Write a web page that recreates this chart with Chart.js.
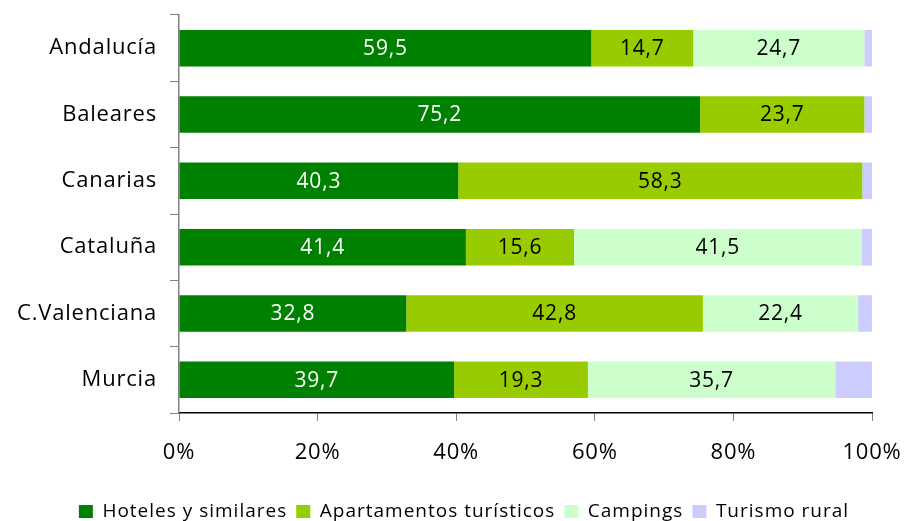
<!DOCTYPE html>
<html>
<head>
<meta charset="utf-8">
<script src="https://cdn.jsdelivr.net/npm/chart.js@4.4.0/dist/chart.umd.min.js"></script>
<style>
  html, body { margin: 0; padding: 0; background: #fff; }
  #wrap { width: 904px; height: 521px; }
</style>
</head>
<body>
<div id="wrap"><canvas id="chart" width="904" height="521"></canvas></div>
<script>
// Regions and share (%) of each accommodation type
const regions = ['Andalucía', 'Baleares', 'Canarias', 'Cataluña', 'C.Valenciana', 'Murcia'];
const hoteles = [59.5, 75.2, 40.3, 41.4, 32.8, 39.7];
const apartamentos = [14.7, 23.7, 58.3, 15.6, 42.8, 19.3];
const campings = [24.7, 0, 0, 41.5, 22.4, 35.7];
const rural = [1.1, 1.1, 1.4, 1.5, 2.0, 5.3];
const xTicks = [0, 20, 40, 60, 80, 100];

const FONT = "'Open Sans', 'DejaVu Sans', sans-serif";
const TEXT_SPACING = '0.8px';
const LEGEND_SPACING = '1px';
const LEGEND_SHIFT = 28; // legend sits centred on the whole canvas, not the padded box

// slightly wider text everywhere, a bit wider again in the legend
const spacing = {
    id: 'spacing',
    afterInit(chart) {
        const lg = chart.legend;
        ['fit', 'draw'].forEach(fn => {
            const orig = lg[fn].bind(lg);
            lg[fn] = function (...args) {
                chart.ctx.save();
                chart.ctx.letterSpacing = LEGEND_SPACING;
                if (fn === 'draw') chart.ctx.translate(LEGEND_SHIFT, 0);
                const r = orig(...args);
                chart.ctx.restore();
                return r;
            };
        });
    },
    beforeLayout(chart) { chart.ctx.letterSpacing = TEXT_SPACING; },
    beforeDraw(chart) { chart.ctx.letterSpacing = TEXT_SPACING; }
};

// value labels inside the segments (not for rural, too thin)
const segmentLabels = {
    id: 'segmentLabels',
    afterDatasetsDraw(chart) {
        const ctx = chart.ctx;
        ctx.save();
        ctx.font = '21px ' + FONT;
        ctx.textAlign = 'center';
        ctx.textBaseline = 'middle';
        chart.data.datasets.forEach((ds, i) => {
            if (i > 2) return;
            const meta = chart.getDatasetMeta(i);
            meta.data.forEach((bar, j) => {
                const v = ds.data[j];
                if (!v) return;
                ctx.fillStyle = i === 0 ? '#ffffff' : '#000000';
                const cx = (bar.x + bar.base) / 2;
                ctx.fillText(v.toFixed(1).replace('.', ','), cx, bar.y + 1);
            });
        });
        ctx.restore();
    }
};

new Chart(document.getElementById('chart'), {
    type: 'bar',
    data: {
        labels: regions,
        datasets: [
            { label: 'Hoteles y similares', data: hoteles, backgroundColor: '#008000' },
            { label: 'Apartamentos turísticos', data: apartamentos, backgroundColor: '#99cc00' },
            { label: 'Campings', data: campings, backgroundColor: '#ccffcc' },
            { label: 'Turismo rural', data: rural, backgroundColor: '#ccccff' }
        ]
    },
    options: {
        indexAxis: 'y',
        responsive: false,
        animation: false,
        devicePixelRatio: 1,
        categoryPercentage: 1,
        barPercentage: 0.55,
        layout: { padding: { top: 15, left: 0, right: 32, bottom: -10 } },
        scales: {
            x: {
                stacked: true,
                min: 0,
                max: 100,
                afterBuildTicks: s => { s.ticks = xTicks.map(v => ({ value: v })); },
                afterFit: s => { s.height = 80; s.paddingLeft = 0; s.paddingRight = 0; },
                ticks: {
                    color: '#000',
                    font: { family: FONT, size: 22 },
                    padding: 19,
                    callback: v => v + '%'
                },
                grid: { drawOnChartArea: false, tickLength: 8, color: '#808080' },
                border: { color: '#000', width: 1.5 }
            },
            y: {
                stacked: true,
                afterFit: s => { s.width = 179; s.paddingTop = 0; s.paddingBottom = 0; },
                ticks: {
                    color: '#000',
                    font: { family: FONT, size: 22 },
                    padding: 13
                },
                grid: { drawOnChartArea: false, tickLength: 9, color: '#808080', offset: true },
                border: { color: '#808080', width: 1.5 }
            }
        },
        plugins: {
            legend: {
                position: 'bottom',
                labels: {
                    color: '#000',
                    font: { family: FONT, size: 19 },
                    boxWidth: 14,
                    boxHeight: 13,
                    padding: 9
                }
            },
            tooltip: { enabled: false }
        }
    },
    plugins: [spacing, segmentLabels]
});
</script>
</body>
</html>
